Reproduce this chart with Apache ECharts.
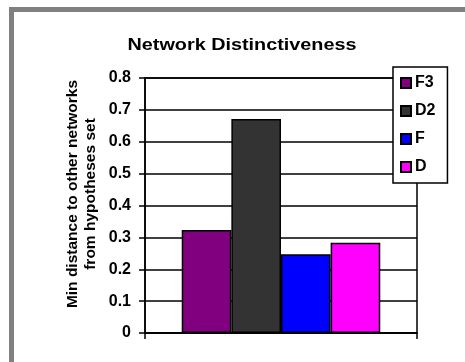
<!DOCTYPE html>
<html>
<head>
<meta charset="utf-8">
<script src="https://cdn.jsdelivr.net/npm/echarts@6/dist/echarts.min.js"></script>
<style>html,body{margin:0;padding:0;background:#fff;}#c{width:465px;height:362px;}</style>
</head>
<body>
<div id="c"></div>
<script>
const titleText = 'Network Distinctiveness';
const yAxisTitle = 'Min distance to other networks\nfrom hypotheses set';
const categories = [''];
const seriesNames = ['F3', 'D2', 'F', 'D'];
const seriesColors = ['#800080', '#333333', '#0000FF', '#FF00FF'];
const valuesF3 = [0.323];
const valuesD2 = [0.671];
const valuesF = [0.247];
const valuesD = [0.283];
const allValues = [valuesF3, valuesD2, valuesF, valuesD];

const chart = echarts.init(document.getElementById('c'), null, {renderer: 'canvas'});
const font = 'Arial, "Liberation Sans", sans-serif';
chart.setOption({
  animation: false,
  backgroundColor: '#fff',
  grid: {left: 145, right: 48, top: 78, bottom: 29, show: true, borderColor: '#000', borderWidth: 1.5, backgroundColor: 'transparent'},
  graphic: [
    {type: 'rect', z: 0, shape: {x: 11.5, y: 9.5, width: 600, height: 500}, style: {fill: 'none', stroke: '#808080', lineWidth: 5}},
    {type: 'text', z: 10, x: 242, y: 45, scaleX: 1.2, style: {text: titleText, fontFamily: font, fontWeight: 'bold', fontSize: 16.5, fill: '#000', align: 'center', verticalAlign: 'middle'}},
    {type: 'text', z: 10, x: 82, y: 194, rotation: Math.PI / 2, style: {text: yAxisTitle, fontFamily: font, fontWeight: 'bold', fontSize: 15.5, lineHeight: 18, fill: '#000', align: 'center', verticalAlign: 'middle'}}
  ],
  legend: {
    orient: 'vertical', left: 393, top: 67,
    padding: [8, 12, 8, 7], itemGap: 12, itemWidth: 10, itemHeight: 10, icon: 'rect',
    backgroundColor: '#fff', borderColor: '#000', borderWidth: 1.5,
    textStyle: {fontFamily: font, fontWeight: 'bold', fontSize: 16, color: '#000', padding: [0, 0, 0, -1]},
    data: seriesNames, z: 20
  },
  xAxis: {
    type: 'category', data: categories,
    axisLine: {lineStyle: {color: '#000', width: 1.5}},
    axisTick: {show: true, length: 6, lineStyle: {color: '#000', width: 1.5}},
    axisLabel: {show: false}
  },
  yAxis: {
    type: 'value', min: 0, max: 0.8, interval: 0.1,
    axisLine: {show: true, lineStyle: {color: '#000', width: 1.5}},
    axisTick: {show: true, length: 6, lineStyle: {color: '#000', width: 1.5}},
    axisLabel: {margin: 14, fontFamily: font, fontWeight: 'bold', fontSize: 16, color: '#000',
      formatter: v => (Math.round(v * 10) / 10).toString()},
    splitLine: {show: true, lineStyle: {color: '#000', width: 1.5}}
  },
  series: seriesNames.map((n, i) => ({
    name: n, type: 'bar', data: allValues[i],
    barGap: '0%', barCategoryGap: '27%',
    itemStyle: {color: seriesColors[i], borderColor: '#000', borderWidth: 1.5}
  }))
});
</script>
</body>
</html>
